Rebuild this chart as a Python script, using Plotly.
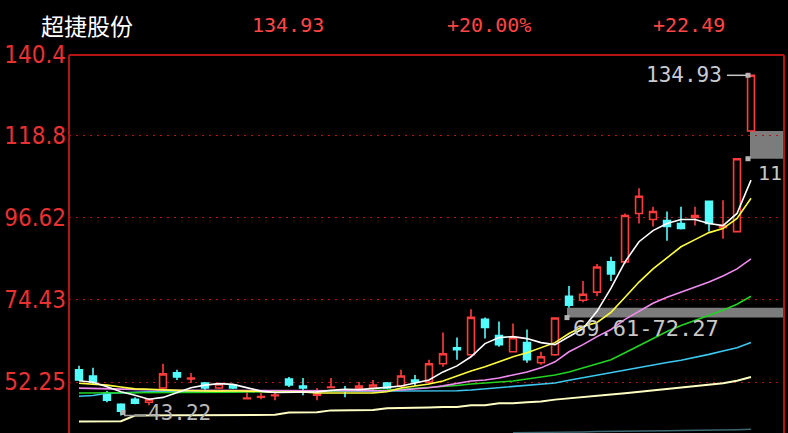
import plotly.graph_objects as go

# ---------------- data ----------------
day = list(range(49))
opens = [55.52, 53.88, 49.26, 46.26, 47.62, 46.81, 50.62, 54.70, 53.07, 51.98,
         50.62, 51.43, 47.76, 48.17, 48.58, 53.07, 51.16, 48.71, 50.75, 50.07,
         50.62, 50.62, 51.98, 51.16, 52.79, 52.25, 57.15, 61.50, 59.60, 69.12,
         64.77, 60.41, 62.86, 57.42, 59.60, 75.38, 74.29, 76.47, 84.63, 84.63,
         97.69, 96.06, 95.79, 94.97, 96.60, 100.96, 93.88, 92.79, 119.90]
highs = [56.60, 56.06, 49.80, 46.54, 48.17, 47.89, 57.15, 55.52, 54.70, 52.25,
         51.98, 51.71, 50.07, 49.26, 49.53, 53.61, 53.34, 50.62, 53.34, 51.16,
         52.25, 52.79, 52.25, 55.52, 54.15, 58.24, 65.58, 64.22, 71.84, 69.66,
         68.58, 68.03, 66.40, 60.41, 69.61, 78.10, 79.46, 84.09, 85.99, 97.69,
         104.49, 99.51, 98.23, 99.51, 99.51, 100.96, 101.23, 112.44, 134.93]
lows = [52.52, 51.71, 46.81, 43.22, 46.26, 45.99, 50.35, 52.79, 51.98, 50.07,
        50.35, 50.35, 47.62, 47.62, 47.35, 50.89, 48.71, 47.35, 50.62, 48.17,
        50.35, 49.26, 50.35, 50.89, 51.16, 51.71, 56.33, 58.24, 59.32, 63.95,
        61.77, 60.41, 57.42, 56.88, 59.32, 72.27, 73.75, 75.38, 79.46, 84.09,
        94.97, 94.15, 90.34, 93.34, 94.42, 92.79, 90.89, 92.79, 119.90]
closes = [52.79, 52.25, 47.35, 44.36, 46.54, 47.62, 54.43, 53.61, 53.34, 50.62,
          51.71, 50.62, 47.89, 48.30, 48.71, 51.43, 50.62, 48.98, 50.89, 49.80,
          51.16, 51.43, 50.62, 53.88, 52.25, 57.15, 59.87, 60.96, 69.66, 66.94,
          62.32, 64.22, 58.24, 59.05, 69.50, 72.93, 75.92, 83.27, 81.37, 97.15,
          102.32, 98.23, 94.15, 93.61, 97.15, 94.97, 94.42, 112.44, 134.93]

ma5 = [52.6, 52.2, 51.0, 49.6, 48.7, 47.6, 48.1, 49.3, 50.7, 51.4,
       51.8, 51.6, 50.8, 49.8, 49.4, 49.4, 49.6, 49.6, 50.0, 50.3,
       50.2, 50.4, 50.8, 51.16, 51.98, 52.79, 54.97, 56.60, 59.05, 62.59,
       64.22, 64.49, 63.95, 62.86, 62.32, 64.49, 66.67, 71.30, 77.56, 84.63,
       90.07, 93.07, 94.97, 96.06, 96.06, 94.97, 94.42, 97.69, 106.67]
ma10 = [51.9, 51.7, 51.4, 50.9, 50.4, 50.3, 50.1, 50.0, 49.9, 49.8,
        49.8, 49.9, 49.9, 49.7, 49.5, 49.5, 49.6, 49.3, 49.3, 49.3,
        49.3, 49.3, 49.6, 50.62, 51.16, 51.71, 52.52, 53.88, 55.24, 56.33,
        57.69, 59.05, 60.14, 61.50, 62.86, 65.31, 67.22, 68.30, 71.02, 75.11,
        79.19, 82.73, 85.72, 88.71, 90.62, 92.52, 93.61, 96.33, 101.77]
ma20 = [50.6, 50.5, 50.4, 50.2, 50.1, 50.0, 50.0, 50.0, 50.0, 50.0,
        50.0, 49.9, 49.9, 49.8, 49.8, 49.8, 49.9, 49.8, 49.8, 49.8,
        49.8, 49.8, 49.9, 50.1, 50.3, 50.7, 51.2, 51.8, 52.5, 52.79,
        53.34, 54.15, 54.97, 56.06, 57.69, 60.41, 62.32, 64.49, 66.40, 69.12,
        71.30, 73.47, 75.11, 76.47, 77.83, 79.19, 80.82, 82.73, 85.45]
ma30 = [49.3, 49.3, 49.3, 49.3, 49.3, 49.3, 49.4, 49.4, 49.4, 49.5,
        49.5, 49.5, 49.6, 49.6, 49.6, 49.7, 49.7, 49.8, 49.8, 49.9,
        49.9, 50.0, 50.1, 50.3, 50.5, 50.7, 51.0, 51.3, 51.7, 51.98,
        52.25, 52.52, 53.07, 53.61, 54.15, 54.97, 56.06, 57.15, 58.24, 60.14,
        62.05, 63.95, 65.86, 67.49, 68.85, 70.21, 71.57, 73.20, 75.38]
ma60 = [48.4, 48.6, 49.2, 49.4, 49.5, 49.6, 49.6, 49.7, 49.7, 49.7,
        49.7, 49.7, 49.7, 49.7, 49.7, 49.7, 49.8, 49.8, 49.8, 49.8,
        49.8, 49.8, 49.8, 49.8, 49.8, 49.8, 49.8, 49.9, 50.1, 50.4,
        50.7, 51.0, 51.3, 51.6, 52.0, 52.7, 53.4, 54.0, 54.7, 55.4,
        56.1, 56.8, 57.5, 58.1, 58.8, 59.7, 60.6, 61.5, 62.9]
ma120 = [41.6, 41.6, 41.6, 41.7, 43.2, 43.3, 43.3, 43.3, 43.3, 43.3,
         43.3, 43.3, 43.3, 43.4, 43.4, 44.0, 44.0, 44.1, 44.6, 44.6,
         44.6, 44.7, 45.2, 45.2, 45.2, 45.4, 45.5, 45.5, 46.0, 46.0,
         46.5, 46.5, 46.8, 47.0, 47.5, 47.9, 48.2, 48.6, 48.9, 49.2,
         49.6, 49.9, 50.2, 50.6, 51.0, 51.4, 51.9, 52.6, 53.6]
ma250 = [None] * 31 + [38.6, 38.6, 38.7, 38.7, 38.8, 38.8, 38.9, 38.9, 39.0,
                       39.0, 39.1, 39.1, 39.2, 39.2, 39.3, 39.3, 39.4, 39.5]

tick_vals = [140.4, 118.8, 96.62, 74.43, 52.25]
tick_text = ["140.4", "118.8", "96.62", "74.43", "52.25"]

stock_name = "超捷股份"
last_price = "134.93"
pct_change = "+20.00%"
abs_change = "+22.49"
low_mark = 43.22
gap1 = (69.61, 72.27)
gap2 = (112.44, 119.90)

# ---------------- layout helpers ----------------
W, H = 788, 433
L, R, T, B = 69, 4, 55, 0
pw, ph = W - L - R, H - T - B
X_MIN = -10 / 14
X_MAX = X_MIN + pw / 14.0
Y_MAX = 140.4
Y_MIN = 52.25 - (H - 382) * (Y_MAX - 52.25) / (382 - T)


def pxx(x):
    return (x - L) / pw


def pxy(y):
    return (H - B - y) / ph


def ix(x):
    return X_MIN + (x - L) / 14.0


RED = "#ff3c3c"
CYAN = "#54fcfc"
GRAYTXT = "#c8ccd2"

fig = go.Figure()

fig.add_trace(go.Candlestick(
    x=day, open=opens, high=highs, low=lows, close=closes,
    increasing=dict(line=dict(color=RED, width=1.6), fillcolor="black"),
    decreasing=dict(line=dict(color=CYAN, width=1.6), fillcolor=CYAN),
    whiskerwidth=0, showlegend=False, hoverinfo="skip"))

lines = [
    (ma250, "#3c6670", 1.5),
    (ma120, "#ffffc4", 2),
    (ma60, "#3cc8f0", 1.6),
    (ma30, "#22d422", 1.6),
    (ma20, "#f08cf0", 1.6),
    (ma10, "#ffff3c", 1.6),
    (ma5, "#ffffff", 1.6),
]
for vals, col, w in lines:
    fig.add_trace(go.Scatter(x=day, y=vals, mode="lines",
                             line=dict(color=col, width=w),
                             showlegend=False, hoverinfo="skip"))

# markers for the labelled points
fig.add_trace(go.Scatter(
    x=[ix(567), ix(748), ix(748), ix(123)],
    y=[gap1[0], gap2[0], highs[-1], low_mark + 0.8],
    mode="markers", marker=dict(color="#b4b4b4", size=5, symbol="square"),
    showlegend=False, hoverinfo="skip"))

shapes = [
    # gap bands
    dict(type="rect", xref="x", yref="y", x0=ix(567), x1=X_MAX,
         y0=gap1[0], y1=gap1[1], fillcolor="#7c7c7c", line=dict(width=0),
         layer="below"),
    dict(type="rect", xref="x", yref="y", x0=ix(750), x1=X_MAX,
         y0=gap2[0], y1=gap2[1], fillcolor="#7c7c7c", line=dict(width=0),
         layer="below"),
    # pointer lines
    dict(type="line", xref="x", yref="y", x0=ix(727), x1=ix(747),
         y0=highs[-1], y1=highs[-1], line=dict(color="#c8c8c8", width=1.5)),
    dict(type="line", xref="x", yref="y", x0=ix(124), x1=ix(146),
         y0=low_mark, y1=low_mark, line=dict(color="#a0a0a0", width=1.5)),
    # frame
    dict(type="line", xref="paper", yref="paper", x0=0, x1=0, y0=0, y1=1,
         line=dict(color="#b41414", width=2)),
    dict(type="line", xref="paper", yref="paper", x0=0, x1=1, y0=1, y1=1,
         line=dict(color="#b41414", width=2)),
    dict(type="line", xref="paper", yref="paper", x0=1, x1=1, y0=0, y1=1,
         line=dict(color="#b41414", width=2)),
]

MONO = "DejaVu Sans Mono"
annotations = [
    dict(text=stock_name, xref="paper", yref="paper", x=pxx(39), y=pxy(25),
         xanchor="left", yanchor="middle", showarrow=False,
         font=dict(family="Noto Sans CJK SC", size=23, color="white")),
    dict(text=last_price, xref="paper", yref="paper", x=pxx(250), y=pxy(25),
         xanchor="left", yanchor="middle", showarrow=False,
         font=dict(family=MONO, size=20, color="#ff4646")),
    dict(text=pct_change, xref="paper", yref="paper", x=pxx(445), y=pxy(25),
         xanchor="left", yanchor="middle", showarrow=False,
         font=dict(family=MONO, size=20, color="#ff4646")),
    dict(text=abs_change, xref="paper", yref="paper", x=pxx(651), y=pxy(25),
         xanchor="left", yanchor="middle", showarrow=False,
         font=dict(family=MONO, size=20, color="#ff4646")),
    dict(text=f"{highs[-1]:.2f}", xref="x", yref="y", x=ix(724), y=highs[-1],
         xanchor="right", yanchor="middle", showarrow=False,
         font=dict(family=MONO, size=21, color=GRAYTXT)),
    dict(text=f"{low_mark:.2f}", xref="x", yref="y", x=ix(146), y=low_mark + 0.6,
         xanchor="left", yanchor="middle", showarrow=False,
         font=dict(family=MONO, size=21, color="#b8b8b8")),
    dict(text=f"{gap1[0]:.2f}-{gap1[1]:.2f}", xref="x", yref="y", x=ix(571),
         y=66.6, xanchor="left", yanchor="middle", showarrow=False,
         font=dict(family=MONO, size=22, color="#c8c8c8")),
    dict(text="11", xref="x", yref="y", x=ix(756), y=108.6,
         xanchor="left", yanchor="middle", showarrow=False,
         font=dict(family=MONO, size=20, color="#c8c8c8")),
]

fig.update_layout(
    width=W, height=H,
    margin=dict(l=L, r=R, t=T, b=B),
    paper_bgcolor="black", plot_bgcolor="black",
    boxgap=0.3,
    shapes=shapes, annotations=annotations,
    hovermode=False,
    xaxis=dict(range=[X_MIN, X_MAX], visible=False, showgrid=False,
               zeroline=False, rangeslider=dict(visible=False), fixedrange=True),
    yaxis=dict(range=[Y_MIN, Y_MAX], tickvals=tick_vals, ticktext=tick_text,
               showgrid=True, gridcolor="#b01818", griddash="2px,5px",
               gridwidth=1, zeroline=False, showline=False, ticks="",
               ticklabelstandoff=2,
               tickfont=dict(family="DejaVu Sans Condensed", size=24,
                             color="#e83232"),
               fixedrange=True),
)

fig.write_html(
    "out.html",
    config={"displayModeBar": False},
    post_script="document.body.style.margin='0';"
                "document.body.style.overflow='hidden';"
                "document.body.style.background='black';",
)
